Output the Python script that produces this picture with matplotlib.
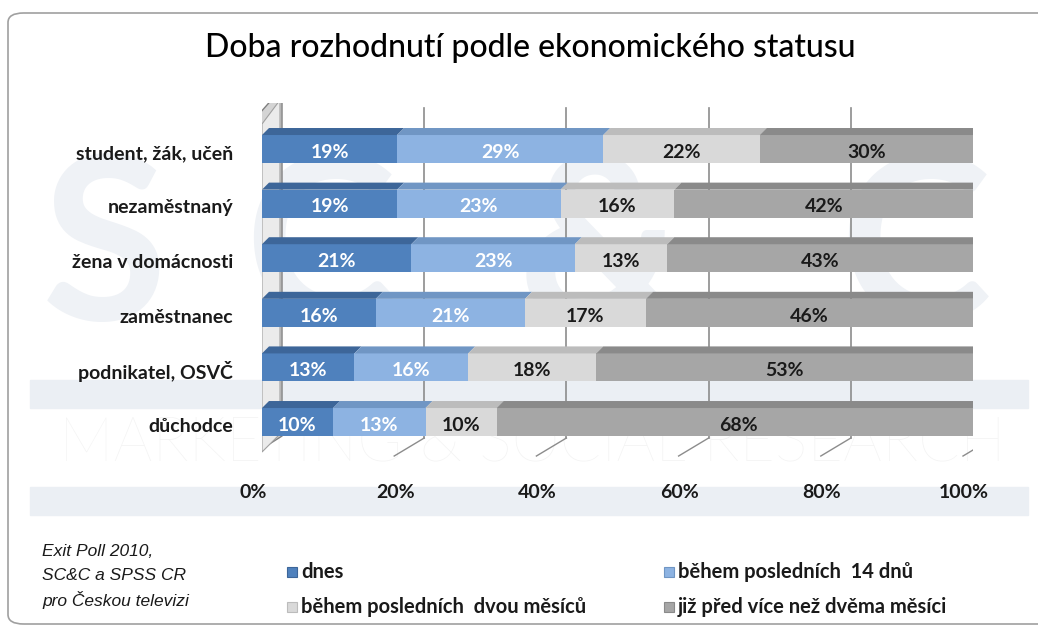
import numpy as np
import matplotlib
matplotlib.use("Agg")
import matplotlib.pyplot as plt
from matplotlib.patches import Polygon, Rectangle, FancyBboxPatch

plt.rcParams['font.family'] = ['Lato', 'DejaVu Sans']

title = "Doba rozhodnutí podle ekonomického statusu"
categories = ["student, žák, učeň", "nezaměstnaný", "žena v domácnosti",
              "zaměstnanec", "podnikatel, OSVČ", "důchodce"]
series_names = ["dnes", "během posledních  14 dnů",
                "během posledních  dvou měsíců", "již před více než dvěma měsíci"]
dnes = [19, 19, 21, 16, 13, 10]
dny14 = [29, 23, 23, 21, 16, 13]
mesice2 = [22, 16, 13, 17, 18, 10]
vice = [30, 42, 43, 46, 53, 68]
xticks = [0, 20, 40, 60, 80, 100]
source_lines = ["Exit Poll 2010,", "SC&C a SPSS CR", "pro Českou televizi"]

front = ['#4f81bd', '#8db3e2', '#d9d9d9', '#a6a6a6']
topc = ['#3d6699', '#7096c4', '#bcbcbc', '#8a8a8a']
txtc = ['white', 'white', '#1a1a1a', '#1a1a1a']

W, H = 1038, 632
fig = plt.figure(figsize=(W / 100, H / 100), dpi=100)

# watermark
for x0, y0, y1 in [(30, 380, 408), (30, 487, 515)]:
    fig.patches.append(Rectangle((x0 / W, 1 - y1 / H), 998 / W, (y1 - y0) / H,
                                 transform=fig.transFigure, color='#ebeff4', zorder=0))
for ch, xc in [("S", 105), ("C", 320), ("&", 600), ("C", 915)]:
    fig.text(xc / W, 1 - 255 / H, ch, fontsize=165, color='#eff2f6', ha='center',
             va='center', fontweight='bold', zorder=0)
fig.text(532 / W, 1 - 445 / H, "MARKETING & SOCIAL RESEARCH", fontsize=44,
         color='#f3f3f3', ha='center', va='center', fontweight='light', zorder=0)

# frame
fig.patches.append(FancyBboxPatch((8 / W, 8 / H), 1.1, 1 - 21 / H,
                                  boxstyle="round,pad=0,rounding_size=0.015",
                                  transform=fig.transFigure, fill=False,
                                  edgecolor='#a0a0a0', lw=1.2, zorder=1))

px = 711 / 100.0   # pixels per percent
py = 54.6          # pixels per row
ax = fig.add_axes([262 / W, 1 - 465.7 / H, 711 / W, (465.7 - 102.6) / H])
ax.set_zorder(5)
ax.set_xlim(0, 100)
ax.set_ylim(5.8, -0.85)
ax.patch.set_alpha(0)
for s in ax.spines.values():
    s.set_visible(False)
ax.set_xticks([])
ax.set_yticks([])

def ry(pix):
    return (pix - 149) / py

# back wall gridlines with floor diagonals
for v in xticks[1:]:
    xb = v + 20 / px
    ax.plot([xb, xb], [ry(108), ry(438)], color='#8c8c8c', lw=1.2, zorder=1)
    ax.plot([xb, v - 10 / px], [ry(438), ry(456)], color='#8c8c8c', lw=1.0, zorder=1)

# left wall
ax.add_patch(Polygon([(-10 / px, ry(122)), (20 / px, ry(88)), (20 / px, ry(436)),
                      (-10 / px, ry(455))], closed=True, facecolor='#d4d4d4',
                     edgecolor='#7f7f7f', lw=1, zorder=1))
ax.add_patch(Polygon([(0, ry(124)), (18 / px, ry(100)), (18 / px, ry(434)),
                      (0, ry(452))], closed=True, facecolor='#ebebeb',
                     edgecolor='#a0a0a0', lw=0.8, zorder=1))

ypos = np.arange(len(categories))
bh = 28 / py
dx = 7 / px
dy = 7 / py
left = np.zeros(len(categories))
for k, vals in enumerate([dnes, dny14, mesice2, vice]):
    vals = np.array(vals, dtype=float)
    ax.barh(ypos, vals, left=left, height=bh, color=front[k], zorder=3)
    for i, (l, v) in enumerate(zip(left, vals)):
        top = ypos[i] - bh / 2
        ax.add_patch(Polygon([(l, top), (l + v, top), (l + v + dx, top - dy),
                              (l + dx, top - dy)], closed=True,
                             facecolor=topc[k], edgecolor='none', zorder=3))
        ax.text(l + v / 2, ypos[i] + 0.06, f"{int(v)}%", ha='center', va='center',
                color=txtc[k], fontsize=14, fontweight='bold', zorder=5)
    left = left + vals

# right end caps
for i in ypos:
    top = i - bh / 2
    ax.add_patch(Polygon([(left[i], top), (left[i] + dx, top - dy),
                          (left[i] + dx, top + bh - dy), (left[i], top + bh)],
                         closed=True, facecolor='#6e6e6e', edgecolor='none', zorder=3))

for i, c in enumerate(categories):
    ax.text(-29 / px, ypos[i] + 0.08, c, ha='right', va='center', fontsize=14,
            fontweight='bold', color='#1a1a1a')

for v in xticks:
    ax.text(v - 9 / px, ry(492), f"{v}%", ha='center', va='center', fontsize=14,
            fontweight='bold', color='#1a1a1a', clip_on=False)

fig.text(530 / W, 1 - 48 / H, title, ha='center', va='center', fontsize=23,
         fontweight='medium', color='black')

# legend
leg_pos = [(287, 572), (664, 572), (287, 607), (664, 607)]
for k, (lx, ly) in enumerate(leg_pos):
    fig.patches.append(Rectangle((lx / W, 1 - (ly + 5) / H), 10 / W, 10 / H,
                                 transform=fig.transFigure, facecolor=front[k],
                                 edgecolor=topc[k], lw=0.8))
    fig.text((lx + 14) / W, 1 - ly / H, series_names[k], ha='left', va='center',
             fontsize=14.5, fontweight='bold', color='#1a1a1a')

for j, line in enumerate(source_lines):
    fig.text(42 / W, 1 - (551 + 24.5 * j) / H, line, ha='left', va='center',
             fontsize=12.5, style='italic', color='#1a1a1a',
             family=['Liberation Sans Narrow', 'Liberation Sans', 'DejaVu Sans'])

fig.savefig("out.png", dpi=100)
